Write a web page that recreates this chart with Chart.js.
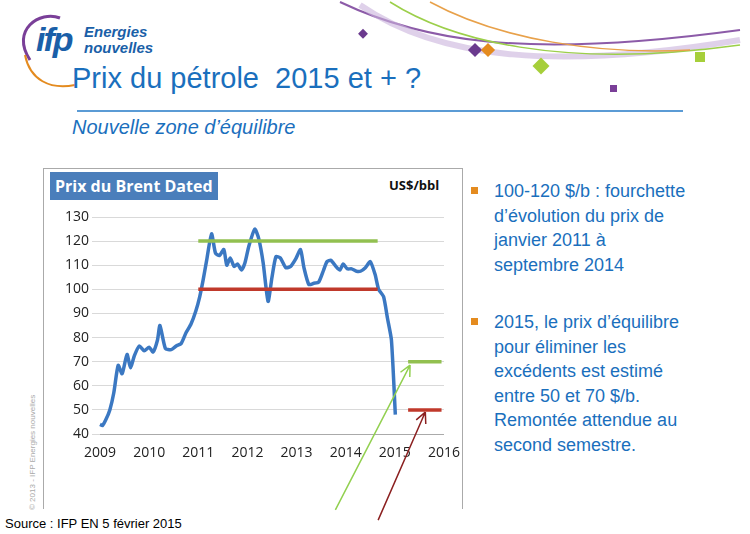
<!DOCTYPE html>
<html><head><meta charset="utf-8">
<script src="https://cdn.jsdelivr.net/npm/chart.js@4"></script>
<style>
body{margin:0;width:750px;height:534px;position:relative;background:#fff;font-family:"Liberation Sans",Arial,sans-serif;overflow:hidden}
.a{position:absolute;white-space:nowrap}
.r{color:#1a6fbd;font-size:18px;line-height:24.5px}
.b{position:absolute;width:7px;height:7px;background:#e48b1f}
</style></head><body>
<svg class="a" style="left:0;top:0" width="750" height="160">
<path d="M340 2 C420 40 520 60 740 30" stroke="#8c5ba8" stroke-width="2" fill="none"/>
<path d="M360 5 C440 60 560 70 740 40" stroke="#c9b3dc" stroke-width="6" fill="none" opacity=".6"/>
<path d="M390 2 C450 40 560 70 740 45" stroke="#9ccf4a" stroke-width="1.5" fill="none"/>
<path d="M430 2 C500 40 600 55 690 50" stroke="#e8a14a" stroke-width="1.5" fill="none"/>
<rect x="470" y="45" width="10" height="10" fill="#6b3a8e" transform="rotate(45 475 50)"/>
<rect x="483" y="45" width="10" height="10" fill="#e48b1f" transform="rotate(45 488 50)"/>
<rect x="535" y="60" width="12" height="12" fill="#a6cf3a" transform="rotate(45 541 66)"/>
<rect x="695" y="52" width="10" height="10" fill="#a6cf3a"/>
<rect x="610" y="85" width="7" height="7" fill="#7a3f98"/>
<rect x="360" y="30" width="7" height="7" fill="#6b3a8e" transform="rotate(45 363 33)"/>
<path d="M30 60 C10 30 40 10 60 18" stroke="#7a3f98" stroke-width="3" fill="none"/>
<path d="M25 55 C30 80 50 90 75 85" stroke="#e48b1f" stroke-width="2" fill="none"/>
<line x1="77" y1="111" x2="683" y2="111" stroke="#5b9bd5" stroke-width="2"/>
</svg>
<div class="a" style="left:36px;top:20px;font:bold italic 34px 'Liberation Sans';color:#1a5fa8;letter-spacing:-2px">ifp</div>
<div class="a" style="left:84px;top:24px;font:bold italic 15px 'Liberation Sans';color:#1a5fa8;line-height:16px">Energies<br>nouvelles</div>
<div class="a" style="left:72px;top:62px;font-size:29px;color:#1a6fbd">Prix du pétrole&nbsp; 2015 et + ?</div>
<div class="a" style="left:72px;top:116px;font-size:20px;font-style:italic;color:#1a6fbd">Nouvelle zone d’équilibre</div>
<div class="a" style="left:43px;top:168px;width:418px;height:340px;border:1px solid #aaa;border-bottom:none"></div>
<div class="a" style="left:50px;top:172px;width:168px;height:28px;background:#4a7ebb;color:#fff;font:bold 16px 'Open Sans';line-height:28px;text-indent:5px">Prix du Brent Dated</div>
<div class="a" style="left:389px;top:176px;font:bold 13px 'Open Sans';color:#111">US$/bbl</div>
<div class="a" style="left:28px;top:510px;transform:rotate(-90deg);transform-origin:0 0;font-size:8px;color:#aaa">© 2013 - IFP Energies nouvelles</div>
<div class="a" style="left:5px;top:516px;font-size:13px;color:#000">Source : IFP EN 5 février 2015</div>
<div class="b" style="left:471px;top:187px"></div>
<div class="a r" style="left:494px;top:179px">100-120 $/b : fourchette<br>d’évolution du prix de<br>janvier 2011 à<br>septembre 2014</div>
<div class="b" style="left:471px;top:318px"></div>
<div class="a r" style="left:494px;top:310px">2015, le prix d’équilibre<br>pour éliminer les<br>excédents est estimé<br>entre 50 et 70 $/b.<br>Remontée attendue au<br>second semestre.</div>
<div class="a" style="left:43px;top:168px;width:420px;height:360px"><canvas id="c" width="420" height="360"></canvas></div>
<script>
const years=[2009,2009.05,2009.12,2009.2,2009.28,2009.37,2009.45,2009.55,2009.62,2009.7,2009.8,2009.9,2010.0,2010.08,2010.17,2010.22,2010.33,2010.45,2010.55,2010.65,2010.75,2010.85,2010.95,2011.03,2011.1,2011.17,2011.27,2011.35,2011.43,2011.52,2011.58,2011.65,2011.73,2011.8,2011.88,2011.95,2012.03,2012.15,2012.23,2012.32,2012.42,2012.5,2012.58,2012.67,2012.78,2012.88,2012.98,2013.08,2013.15,2013.25,2013.35,2013.45,2013.55,2013.62,2013.7,2013.8,2013.88,2013.95,2014.03,2014.12,2014.22,2014.3,2014.4,2014.5,2014.6,2014.67,2014.77,2014.85,2014.93,2015.01];
const brent=[44,43.5,46,50,57,68.5,65,73,67.5,72.5,76.5,74.5,76,74,79,85,75.5,75,76.5,77.5,82,85.5,91,97,104,112,123,115,114,116.5,110,113,109.5,110.5,108,111,118,125,121,111,95,105,113.5,113,109,109.5,112.5,116.5,109,102,102.5,103,108,111.5,112,109.5,108,110.5,108.5,108.5,107.5,107.5,109,111.5,106,100,97,88,79,48];
const bandX=[2011.0,2014.65], bandHigh=120, bandLow=100;
const eqX=[2015.27,2015.95], eqHigh=70, eqLow=50;
const arrowGreen=[[2013.79,8.5],[2015.31,68.6]], arrowRed=[[2014.66,4.3],[2015.62,49.1]];
const xTicks=[2009,2010,2011,2012,2013,2014,2015,2016];
const seg=(xs,y)=>xs.map(x=>({x,y}));
const ln=(d,c)=>({data:d,borderColor:c,borderWidth:3.5,pointRadius:0,tension:0});
const arrows={id:'ar',afterDatasetsDraw(ch){const c=ch.ctx,xs=ch.scales.x,ys=ch.scales.y;
 [[arrowGreen,'#92d050'],[arrowRed,'#8b2020']].forEach(([a,col])=>{
  const x1=xs.getPixelForValue(a[0][0]),y1=ys.getPixelForValue(a[0][1]),x2=xs.getPixelForValue(a[1][0]),y2=ys.getPixelForValue(a[1][1]);
  c.save();c.strokeStyle=col;c.lineWidth=1.5;c.beginPath();c.moveTo(x1,y1);c.lineTo(x2,y2);
  const an=Math.atan2(y2-y1,x2-x1);[0.45,-0.45].forEach(d=>{c.moveTo(x2,y2);c.lineTo(x2-12*Math.cos(an+d),y2-12*Math.sin(an+d));});
  c.stroke();c.restore();});}};
new Chart(document.getElementById('c'),{type:'line',
 data:{datasets:[ln(seg(bandX,bandHigh),'#92c050'),ln(seg(bandX,bandLow),'#c0392b'),ln(seg(eqX,eqHigh),'#92c050'),ln(seg(eqX,eqLow),'#c0392b'),
  {data:years.map((x,i)=>({x,y:brent[i]})),borderColor:'#3b78c2',borderWidth:3.5,pointRadius:0,tension:0.2}]},
 options:{responsive:false,animation:false,clip:false,
  layout:{padding:{top:49,right:19,bottom:64,left:0}},
  plugins:{legend:{display:false},tooltip:{enabled:false}},
  scales:{x:{type:'linear',min:2009,max:2016,afterBuildTicks:s=>{s.ticks=xTicks.map(v=>({value:v}))},
     grid:{display:false},border:{color:'#aaa'},afterFit:s=>{s.height=30},
     ticks:{autoSkip:false,color:'#222',font:{size:14,family:'Open Sans'},callback:v=>String(v),maxRotation:0}},
   y:{min:40,max:130,afterFit:s=>{s.width=57},ticks:{stepSize:10,color:'#222',font:{size:14,family:'Open Sans'}},
     grid:{color:'#d9d9d9'},border:{display:false}}}},
 plugins:[arrows]});
</script>
</body></html>
